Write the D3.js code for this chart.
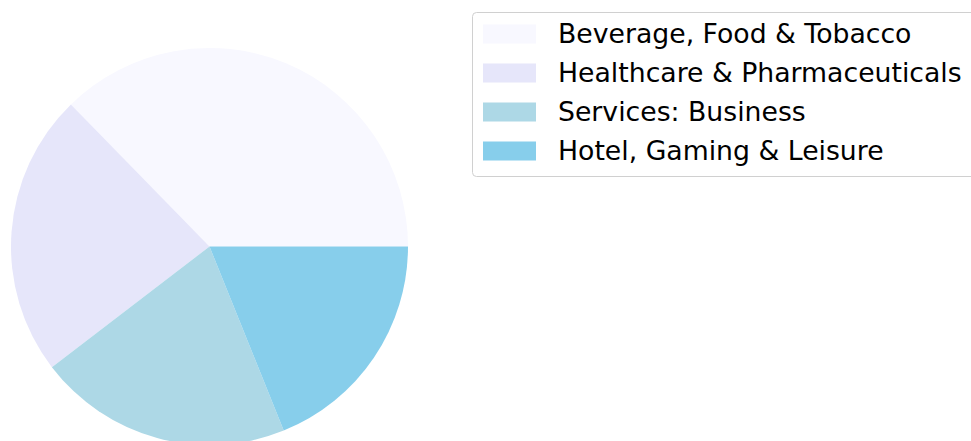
<!DOCTYPE html>
<html lang="en">
<head>
    <meta charset="UTF-8">
    <title>Sector pie</title>
    <script src="https://d3js.org/d3.v7.min.js"></script>
    <style>
        body { margin: 0; background: #fff; }
        text { font-family: "DejaVu Sans", sans-serif; }
    </style>
</head>
<body>
    <div id="chart"></div>
    <script>
        // data
        const sectors = ["Beverage, Food & Tobacco", "Healthcare & Pharmaceuticals", "Services: Business", "Hotel, Gaming & Leisure"];
        const shares = [37.3, 23.1, 20.7, 18.9];
        const colours = ["#F8F8FF", "#E6E6FA", "#ADD8E6", "#87CEEB"];

        const width = 971, height = 441;
        const cx = 209.5, cy = 246.5, radius = 198.5;

        const svg = d3.select("#chart")
            .append("svg")
            .attr("width", width)
            .attr("height", height);

        const colour = d3.scaleOrdinal().domain(sectors).range(colours);

        // matplotlib style: start at 3 o'clock, go counter-clockwise
        const pie = d3.pie()
            .sort(null)
            .value(function (d, i) { return shares[i]; })
            .startAngle(Math.PI / 2)
            .endAngle(Math.PI / 2 - 2 * Math.PI);

        const arc = d3.arc().innerRadius(0).outerRadius(radius);

        svg.append("g")
            .attr("transform", "translate(" + cx + "," + cy + ")")
            .selectAll("path")
            .data(pie(sectors))
            .enter()
            .append("path")
            .attr("d", arc)
            .attr("fill", function (d) { return colour(d.data); });

        // legend
        const legend = svg.append("g").attr("transform", "translate(472,12)");
        legend.append("rect")
            .attr("x", 0.5).attr("y", 0.5)
            .attr("width", 540).attr("height", 164)
            .attr("rx", 4)
            .attr("fill", "#fff").attr("fill-opacity", 0.8)
            .attr("stroke", "#d0d0d0");

        const rowY = d3.scalePoint().domain(sectors).range([12.5, 129.5]);

        const rows = legend.selectAll(".row")
            .data(sectors)
            .enter()
            .append("g")
            .attr("class", "row")
            .attr("transform", function (d) { return "translate(0," + rowY(d) + ")"; });

        rows.append("rect")
            .attr("x", 11).attr("y", 0)
            .attr("width", 53).attr("height", 19)
            .attr("fill", function (d) { return colour(d); });

        rows.append("text")
            .attr("x", 86)
            .attr("y", 18.5)
            .style("font-size", "26.7px")
            .attr("fill", "#000")
            .text(function (d) { return d; });
    </script>
</body>
</html>
